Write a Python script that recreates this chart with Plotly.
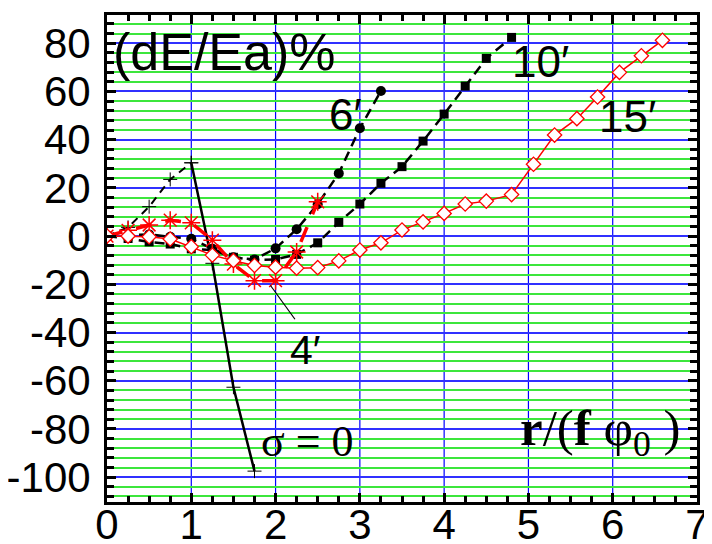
import plotly.graph_objects as go

# ---------------- data ----------------
x_s0 = [0, 0.25, 0.5, 0.75, 1.0]
y_s0 = [0, 3.6, 12.2, 23.5, 30.4]
x_s0b = [1.0, 1.25, 1.5, 1.75]
y_s0b = [30.4, -11.3, -62.7, -97.5]

x_6 = [0, 0.25, 0.5, 0.75, 1.0, 1.25, 1.5, 1.75, 2.0, 2.25, 2.5, 2.75, 3.0, 3.25]
y_6 = [0, 0.3, 0.7, -0.3, -1.1, -5.3, -8.8, -9.7, -5.1, 2.8, 13.2, 26.0, 44.7, 60.2]

x_10 = [0, 0.25, 0.5, 0.75, 1.0, 1.25, 1.5, 1.75, 2.0, 2.25, 2.5, 2.75, 3.0, 3.25,
        3.5, 3.75, 4.0, 4.25, 4.5, 4.8]
y_10 = [0, -1.0, -2.4, -3.3, -5.3, -5.8, -8.8, -10.0, -9.7, -7.6, -2.8, 5.7, 13.3, 21.9,
        28.8, 39.4, 50.6, 62.2, 73.7, 82.4]

x_4 = [0, 0.25, 0.5, 0.75, 1.0, 1.25, 1.5, 1.75, 2.0, 2.25, 2.5]
y_4 = [0, 2.4, 4.6, 6.6, 5.5, -1.7, -11.6, -18.5, -18.5, -6.6, 14.2]

x_15 = [0, 0.25, 0.5, 0.75, 1.0, 1.25, 1.5, 1.75, 2.0, 2.25, 2.5, 2.75, 3.0, 3.25,
        3.5, 3.75, 4.0, 4.25, 4.5, 4.8, 5.06, 5.31, 5.575, 5.82, 6.08, 6.34, 6.59]
y_15 = [0, 0, -0.3, -1.2, -4.4, -7.9, -10.2, -12.2, -12.9, -13.3, -13.1, -10.3, -5.8, -2.8,
        2.5, 5.9, 9.4, 13.3, 14.5, 17.2, 29.8, 41.9, 48.7, 57.7, 67.9, 74.8, 81.2]

x_ticks = [0, 1, 2, 3, 4, 5, 6, 7]
y_ticks = [-100, -80, -60, -40, -20, 0, 20, 40, 60, 80]

# ---------------- figure ----------------
fig = go.Figure()

fig.add_trace(go.Scatter(x=x_s0, y=y_s0, mode="lines+markers",
                         line=dict(color="black", width=2, dash="8px,6px"),
                         marker=dict(symbol="cross-thin-open", size=10,
                                     line=dict(color="black", width=1))))
fig.add_trace(go.Scatter(x=x_s0b, y=y_s0b, mode="lines+markers",
                         line=dict(color="black", width=2.5),
                         marker=dict(symbol="cross-thin-open", size=10,
                                     line=dict(color="black", width=1))))
fig.add_trace(go.Scatter(x=x_10, y=y_10, mode="lines+markers",
                         line=dict(color="black", width=2.5, dash="10px,6px"),
                         marker=dict(symbol="square", size=9, color="black")))
fig.add_trace(go.Scatter(x=x_6, y=y_6, mode="lines+markers",
                         line=dict(color="black", width=2.5, dash="10px,6px"),
                         marker=dict(symbol="circle", size=10, color="black")))
fig.add_trace(go.Scatter(x=x_4, y=y_4, mode="lines+markers",
                         line=dict(color="red", width=3.5, dash="16px,14px"),
                         marker=dict(symbol="asterisk-open", size=15,
                                     line=dict(color="red", width=1.5))))
fig.add_trace(go.Scatter(x=x_15, y=y_15, mode="lines+markers",
                         line=dict(color="red", width=1.5),
                         marker=dict(symbol="diamond", size=11, color="white",
                                     line=dict(color="red", width=1.3))))

# vertical blue grid lines drawn above the horizontal grid (as in the reference)
for v in x_ticks[1:-1]:
    fig.add_shape(type="line", xref="x", yref="paper", x0=v, x1=v, y0=0, y1=1,
                  layer="between", line=dict(color="#0000ff", width=1.2))

# pointer line for the 4' label
fig.add_shape(type="line", xref="x", yref="y", x0=1.94, y0=-20.5, x1=2.23, y1=-34.5,
              line=dict(color="black", width=1.2))

xtick_font = dict(family="Liberation Sans, Arial, sans-serif", size=42, color="black")
ytick_font = dict(family="Liberation Sans, Arial, sans-serif", size=42, color="black")
ann_font = dict(family="Liberation Sans, Arial, sans-serif", size=44, color="black")
title_font = dict(family="Liberation Sans, Arial, sans-serif", size=52, color="black")
serif_font = dict(family="Liberation Serif, Times New Roman, serif", size=44, color="black")

annotations = [
    dict(x=1.39, y=76.3, text="(dE/Ea)%", font=title_font),
    dict(x=2.83, y=50.6, text="6′", font=ann_font),
    dict(x=5.14, y=72.6, text="10′", font=ann_font),
    dict(x=6.18, y=49.8, text="15′", font=ann_font),
    dict(x=2.35, y=-47.3, text="4′", font=dict(ann_font, size=41)),
    dict(x=2.38, y=-85.0, text="σ = 0", font=serif_font),
    dict(x=5.86, y=-81.3, text="<b>r</b>/(<b>f</b> φ<sub>0</sub> )",
         font=dict(serif_font, size=51)),
]
for a in annotations:
    a.update(xref="x", yref="y", showarrow=False, xanchor="center", yanchor="middle")

# the page body has an 8px default margin, so the figure is sized/offset for it
fig.update_layout(
    width=704, height=536,
    margin=dict(l=99, r=15, t=7, b=42),
    paper_bgcolor="white", plot_bgcolor="white",
    showlegend=False,
    annotations=annotations,
    xaxis=dict(
        range=[0, 7], tickmode="array", tickvals=x_ticks,
        ticktext=[str(v) for v in x_ticks], automargin=False,
        tickfont=xtick_font, ticks="inside", ticklen=9, tickwidth=2.5, tickcolor="black",
        showline=True, linecolor="black", linewidth=3, mirror="allticks",
        showgrid=False, zeroline=False,
        minor=dict(dtick=0.25, ticks="inside", ticklen=6, tickwidth=2.5,
                   tickcolor="black", showgrid=False),
        ticklabelstandoff=-16,
    ),
    yaxis=dict(
        range=[-110.3, 91.7], tickmode="array", tickvals=y_ticks,
        ticktext=[str(v) for v in y_ticks], automargin=False,
        tickfont=ytick_font, ticks="inside", ticklen=9, tickwidth=2.5, tickcolor="black",
        showline=True, linecolor="black", linewidth=3, mirror="allticks",
        showgrid=True, gridcolor="#3030ff", gridwidth=1.5, zeroline=False,
        minor=dict(dtick=4, ticks="inside", ticklen=7, tickwidth=2.5,
                   tickcolor="black", showgrid=True, gridcolor="#3ce63c", gridwidth=2),
        ticklabelstandoff=5,
    ),
)

fig.write_html("out.html")
